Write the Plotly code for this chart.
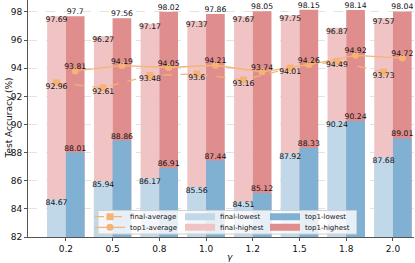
import plotly.graph_objects as go

gammas = ["0.2", "0.5", "0.8", "1.0", "1.2", "1.5", "1.8", "2.0"]
final_highest = [97.69, 96.27, 97.17, 97.37, 97.67, 97.75, 96.87, 97.57]
top1_highest = [97.7, 97.56, 98.02, 97.86, 98.05, 98.15, 98.14, 98.04]
final_lowest = [84.67, 85.94, 86.17, 85.56, 84.51, 87.92, 90.24, 87.68]
top1_lowest = [88.01, 88.86, 86.91, 87.44, 85.12, 88.33, 90.24, 89.01]
final_average = [92.96, 92.61, 93.48, 93.6, 93.16, 94.01, 94.49, 93.73]
top1_average = [93.81, 94.19, 94.05, 94.21, 93.74, 94.26, 94.92, 94.72]

idx = list(range(len(gammas)))
xf = [i - 0.2 for i in idx]
xt = [i + 0.2 for i in idx]

C_FH = "#f0c4c4"
C_TH = "#e08d8d"
C_FL = "#c0d8e8"
C_TL = "#80b1d3"
C_LINE = "#f5b475"
FONT = "DejaVu Sans"

W, H = 415, 263
ML, MR, MT, MB = 28, 1, 0, 26
PW, PH = W - ML - MR, H - MT - MB

def px_x(p):
    return (p - ML) / PW

def px_y(p):
    return (H - MB - p) / PH

fig = go.Figure()

# bars (no legend entries; legend patches are drawn by dedicated entries below)
for x, y, c in [(xf, final_highest, C_FH), (xt, top1_highest, C_TH),
                (xf, final_lowest, C_FL), (xt, top1_lowest, C_TL)]:
    fig.add_trace(go.Bar(x=x, y=y, width=0.4, marker=dict(color=c, line=dict(width=0)),
                         showlegend=False, hoverinfo="skip"))

fig.add_trace(go.Scatter(x=xf, y=final_average, mode="lines+markers", name="final-average",
                         line=dict(color=C_LINE, width=1.3, dash="dash"),
                         marker=dict(symbol="square", size=7, color=C_LINE), legend="legend"))
fig.add_trace(go.Scatter(x=xt, y=top1_average, mode="lines+markers", name="top1-average",
                         line=dict(color=C_LINE, width=1.3),
                         marker=dict(symbol="circle", size=7, color=C_LINE), legend="legend2"))

# legend patches for the bar series
for name, c, leg in [("final-lowest", C_FL, "legend3"), ("final-highest", C_FH, "legend4"),
                     ("top1-lowest", C_TL, "legend5"), ("top1-highest", C_TH, "legend6")]:
    fig.add_trace(go.Scatter(x=[None], y=[None], mode="lines", name=name,
                             line=dict(color=c, width=7), legend=leg))

def labels(x, y, pos):
    fig.add_trace(go.Scatter(x=x, y=y, mode="text", text=[f"{v:g}" for v in y],
                             textposition=pos, textfont=dict(family=FONT, size=7.7, color="#111"),
                             showlegend=False, hoverinfo="skip", cliponaxis=False))

labels(xf, final_highest, "bottom center")
labels(xt, top1_highest, "top center")
labels(xf, final_lowest, "bottom center")
labels(xt, top1_lowest, "top center")
labels(xf, final_average, "bottom center")
labels(xt, top1_average, "top center")

leg_common = dict(orientation="v", yanchor="middle", xanchor="left",
                  font=dict(size=7, family=FONT, color="#111"),
                  bgcolor="rgba(0,0,0,0)", borderwidth=0, itemwidth=30, tracegroupgap=0)
ROW1, ROW2 = 216.7, 227.3
COL1, COL2, COL3 = 90, 180, 265

fig.update_layout(
    width=W, height=H,
    margin=dict(l=ML, r=MR, t=MT, b=MB),
    barmode="overlay",
    plot_bgcolor="white", paper_bgcolor="white",
    font=dict(family=FONT, size=9, color="#111"),
    hovermode=False,
    legend=dict(x=px_x(COL1), y=px_y(ROW1), **leg_common),
    legend2=dict(x=px_x(COL1), y=px_y(ROW2), **leg_common),
    legend3=dict(x=px_x(COL2), y=px_y(ROW1), **leg_common),
    legend4=dict(x=px_x(COL2), y=px_y(ROW2), **leg_common),
    legend5=dict(x=px_x(COL3), y=px_y(ROW1), **leg_common),
    legend6=dict(x=px_x(COL3), y=px_y(ROW2), **leg_common),
    shapes=[dict(type="rect", xref="paper", yref="paper", layer="above",
                 x0=px_x(98), x1=px_x(356.5), y0=px_y(234), y1=px_y(210.5),
                 fillcolor="rgba(255,255,255,0.8)", line=dict(color="#d0d0d0", width=1))],
    xaxis=dict(range=[-0.81, 7.45], tickvals=idx, ticktext=gammas, showgrid=False,
               showline=True, linecolor="#555", linewidth=1, ticks="outside", ticklen=3,
               tickcolor="#555", zeroline=False, automargin=False),
    yaxis=dict(range=[82, 98.85], tickvals=list(range(82, 99, 2)), showgrid=True,
               gridcolor="#e3e3e3", griddash="dash", gridwidth=0.8,
               showline=True, linecolor="#555", linewidth=1, ticks="outside", ticklen=3,
               tickcolor="#555", zeroline=False, automargin=False),
    annotations=[
        dict(text="Test Accuracy (%)", xref="paper", yref="paper", x=px_x(8), y=0.5,
             textangle=-90, showarrow=False, xanchor="center", yanchor="middle",
             font=dict(size=9)),
        dict(text="<i>γ</i>", xref="paper", yref="paper", x=px_x(230), y=px_y(257),
             showarrow=False, xanchor="center", yanchor="middle", font=dict(size=9)),
    ],
)

fig.write_html("out.html", config={"displayModeBar": False},
               post_script="document.body.style.margin='0';")
